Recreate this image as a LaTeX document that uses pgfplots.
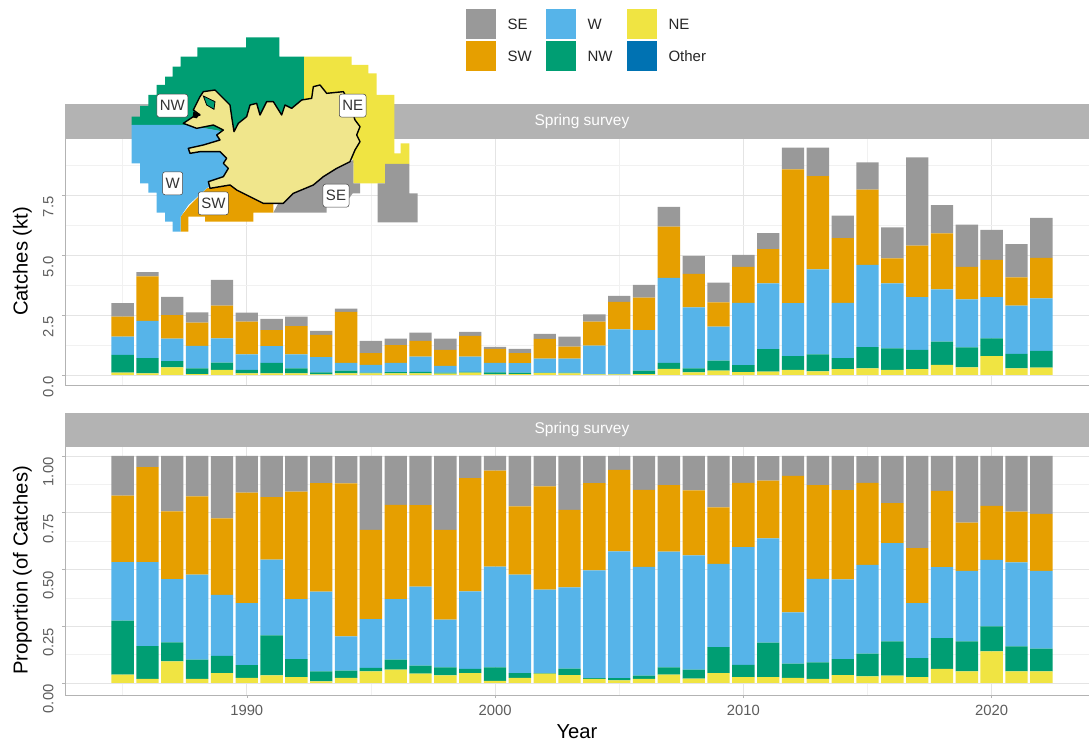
\documentclass[border=0pt]{standalone}
\usepackage{fontspec}
\setmainfont{Liberation Sans}
\usepackage{pgfplots}
\usepackage{pgfplotstable}
\pgfplotsset{compat=1.18}
\definecolor{cSE}{HTML}{999999}
\definecolor{cSW}{HTML}{E69F00}
\definecolor{cW}{HTML}{56B4E9}
\definecolor{cNW}{HTML}{009E73}
\definecolor{cNE}{HTML}{F0E442}
\definecolor{cOther}{HTML}{0072B2}
\definecolor{stripgrey}{HTML}{B3B3B3}
\definecolor{grid87}{HTML}{E4E4E4}
\definecolor{grid93}{HTML}{F1F1F1}
\definecolor{tickgrey}{HTML}{5C5C5C}
\definecolor{land}{HTML}{F0E68C}

\pgfplotstableread{
year ne nw w sw se
1985 .10 .74 .76 .83 .56
1986 .07 .63 1.56 1.85 .18
1987 .32 .26 .94 .97 .76
1988 .04 .24 .93 .97 .43
1989 .21 .31 1.01 1.36 1.07
1990 .07 .14 .65 1.36 .38
1991 .07 .44 .69 .67 .47
1992 .07 .21 .58 1.18 .39
1993 .03 .08 .63 .93 .17
1994 .07 .11 .33 2.12 .14
1995 .07 .03 .32 .49 .51
1996 .07 .05 .38 .74 .28
1997 .07 .06 .64 .65 .35
1998 .06 .04 .28 .67 .47
1999 .10 .03 .64 .86 .17
2000 .03 .08 .40 .58 .08
2001 .04 .06 .39 .42 .18
2002 .08 .02 .58 .82 .21
2003 .07 .03 .58 .50 .42
2004 .03 .01 1.18 1.00 .31
2005 .03 .01 1.86 1.15 .25
2006 .04 .14 1.69 1.35 .53
2007 .26 .25 3.54 2.13 .83
2008 .11 .17 2.54 1.39 .75
2009 .18 .42 1.42 1.01 .82
2010 .12 .29 2.60 1.50 .49
2011 .14 .94 2.74 1.42 .67
2012 .21 .58 2.20 5.58 .90
2013 .15 .71 3.54 3.89 1.18
2014 .24 .46 2.31 2.69 .94
2015 .28 .88 3.43 3.13 1.14
2016 .21 .90 2.71 1.04 1.29
2017 .24 .81 2.19 2.15 3.68
2018 .42 .97 2.18 2.33 1.18
2019 .32 .83 2.00 1.36 1.76
2020 .79 .74 1.71 1.56 1.25
2021 .28 .60 2.01 1.18 1.38
2022 .31 .69 2.19 1.69 1.67
}\toptab

\pgfplotstableread{
year ne nw w sw se
1985 .037 .238 .257 .293 .175
1986 .018 .144 .370 .419 .050
1987 .095 .084 .279 .298 .245
1988 .018 .085 .374 .345 .179
1989 .044 .076 .268 .337 .274
1990 .023 .056 .273 .487 .161
1991 .034 .176 .333 .276 .182
1992 .026 .079 .264 .474 .157
1993 .007 .044 .352 .477 .120
1994 .023 .031 .151 .674 .120
1995 .051 .016 .214 .393 .326
1996 .059 .044 .267 .415 .216
1997 .041 .035 .349 .359 .216
1998 .034 .035 .210 .396 .326
1999 .044 .018 .342 .499 .098
2000 .009 .060 .444 .422 .065
2001 .023 .021 .433 .301 .223
2002 .041 .003 .367 .455 .135
2003 .035 .028 .358 .342 .238
2004 .018 .003 .475 .384 .120
2005 .012 .009 .559 .359 .062
2006 .018 .015 .478 .340 .150
2007 .037 .032 .510 .293 .128
2008 .019 .040 .503 .286 .152
2009 .044 .114 .367 .249 .226
2010 .026 .054 .518 .284 .117
2011 .026 .152 .459 .254 .108
2012 .023 .062 .226 .601 .088
2013 .018 .073 .368 .413 .128
2014 .035 .070 .352 .393 .150
2015 .029 .100 .391 .362 .117
2016 .032 .151 .433 .176 .208
2017 .026 .084 .242 .242 .406
2018 .062 .136 .312 .336 .154
2019 .051 .132 .311 .213 .293
2020 .139 .110 .293 .238 .220
2021 .051 .110 .370 .224 .245
2022 .051 .100 .343 .251 .255
}\proptab

\pgfplotsset{
  panel/.style={
    scale only axis, width=1024pt, clip=true,
    xmin=1982.68, xmax=2023.92,
    ybar stacked, bar shift=0pt, bar width=0.9,
    xtick={1990,2000,2010,2020},
    minor xtick={1985,1995,2005,2015},
    xtick pos=bottom, ytick pos=left,
    tick align=outside, major tick length=3pt, minor tick length=0pt,
    tick style={stripgrey, line width=.5pt},
    axis line style={stripgrey, line width=.6pt},
    grid=both,
    major grid style={grid87, line width=.6pt},
    minor grid style={grid93, line width=.4pt},
    tick label style={text=tickgrey, font=\fontsize{14.8}{17}\selectfont},
    xticklabel style={yshift=-4pt},
    /pgf/number format/assume math mode=true,
    /pgf/number format/1000 sep={},
    yticklabel style={rotate=90, anchor=south east, xshift=2pt, yshift=5pt,
      /pgf/number format/fixed, /pgf/number format/fixed zerofill},
    every axis y label/.style={at={(axis description cs:-0.0415,0.5)}, rotate=90, anchor=center,
      font=\fontsize{20.2}{24}\selectfont},
    every axis x label/.style={at={(axis description cs:0.5,-0.148)}, anchor=center,
      font=\fontsize{20.2}{24}\selectfont},
  },
  seriesbar/.style={fill=#1, draw=none},
}

\begin{document}
\begin{tikzpicture}[x=1pt,y=1pt]
\path[use as bounding box] (0,0) rectangle (1089,742);

% top panel
\begin{axis}[panel, at={(65pt,357pt)}, anchor=south west, height=247pt,
  ymin=-0.4167, ymax=9.875,
  ytick={0,2.5,5,7.5}, minor ytick={1.25,3.75,6.25,8.75},
  yticklabel style={/pgf/number format/precision=1},
  xticklabels={,,}, xtick style={draw=none},
  ylabel={Catches (kt)}]
\addplot[seriesbar=cNE] table[x=year,y=ne]{\toptab};
\addplot[seriesbar=cNW] table[x=year,y=nw]{\toptab};
\addplot[seriesbar=cW]  table[x=year,y=w]{\toptab};
\addplot[seriesbar=cSW] table[x=year,y=sw]{\toptab};
\addplot[seriesbar=cSE] table[x=year,y=se]{\toptab};
\end{axis}

% bottom panel
\begin{axis}[panel, at={(65pt,47pt)}, anchor=south west, height=249pt,
  ymin=-0.0529, ymax=1.044,
  ytick={0,.25,.5,.75,1}, minor ytick={.125,.375,.625,.875},
  yticklabel style={/pgf/number format/precision=2},
  ylabel={Proportion (of Catches)}, xlabel={Year}]
\addplot[seriesbar=cNE] table[x=year,y=ne]{\proptab};
\addplot[seriesbar=cNW] table[x=year,y=nw]{\proptab};
\addplot[seriesbar=cW]  table[x=year,y=w]{\proptab};
\addplot[seriesbar=cSW] table[x=year,y=sw]{\proptab};
\addplot[seriesbar=cSE] table[x=year,y=se]{\proptab};
\end{axis}

% facet strips
\fill[stripgrey] (65,604) rectangle (1089,638);
\node[text=white, font=\fontsize{15.5}{18}\selectfont] at (582,621) {Spring survey};
\fill[stripgrey] (65,296) rectangle (1089,329);
\node[text=white, font=\fontsize{15.5}{18}\selectfont] at (582,313) {Spring survey};

% legend
\foreach \x/\y/\c/\t in {466/703/cSE/SE,466/671/cSW/SW,546/703/cW/W,546/671/cNW/NW,627/703/cNE/NE,627/671/cOther/Other}{
  \fill[\c] (\x,\y) rectangle ++(30,30);
  \node[anchor=west, text=black!85, font=\fontsize{15}{18}\selectfont] at (\x+38,\y+15) {\t};
}

% inset map, in the coordinates of a 400x230 region
\begin{axis}[at={(60pt,492pt)}, anchor=south west, scale only axis, width=400pt, height=230pt,
  xmin=0, xmax=1200, ymin=0, ymax=690, y dir=reverse, hide axis, clip=false]
\addplot[fill=cNW, draw=none] coordinates {(215,315)(215,290)(240,290)(240,258)(265,258)(265,225)(290,225)(290,195)(315,195)(315,170)(338,170)(338,140)(362,140)(362,110)(412,110)(412,82)(558,82)(558,52)(658,52)(658,110)(732,110)(732,260)(520,340)(380,315)} -- cycle;
\addplot[fill=cNE, draw=none] coordinates {(732,110)(875,110)(875,135)(925,135)(925,160)(950,160)(950,225)(1003,225)(1003,400)(1022,400)(1022,370)(1048,370)(1048,432)(975,432)(975,490)(880,490)(880,430)(850,300)(732,260)} -- cycle;
\addplot[fill=cSE, draw=none] coordinates {(975,432)(1048,432)(1048,520)(1073,520)(1073,607)(953,607)(953,490)(975,490)} -- cycle;
\addplot[fill=cSE, draw=none] coordinates {(880,420)(880,490)(900,490)(900,520)(878,520)(860,545)(800,545)(800,578)(640,578)(660,540)(800,460)} -- cycle;
\addplot[fill=cSW, draw=none] coordinates {(435,605)(580,605)(580,578)(640,578)(640,550)(560,510)(520,495)(440,505)(390,555)(362,590)(362,635)(385,635)(385,590)(435,590)} -- cycle;
\addplot[fill=cW, draw=none] coordinates {(215,315)(380,315)(520,340)(500,470)(440,505)(385,555)(362,590)(362,635)(338,635)(338,605)(315,605)(315,578)(290,578)(290,518)(265,518)(265,490)(240,490)(240,430)(215,430)} -- cycle;
\addplot[fill=land, draw=black, line width=1.4pt, line join=round] coordinates {(430,215)(465,210)(490,235)(510,255)(515,290)(522,335)(535,310)(560,290)(570,255)(590,250)(600,285)(620,245)(640,245)(665,285)(675,255)(695,265)(725,240)(755,235)(760,200)(780,195)(800,220)(850,215)(870,250)(885,300)(900,320)(890,345)(900,365)(885,390)(870,425)(830,445)(790,470)(760,495)(700,520)(670,550)(610,550)(570,530)(530,510)(510,495)(450,505)(445,485)(490,470)(505,445)(490,430)(500,415)(480,395)(420,395)(390,400)(385,385)(430,375)(480,360)(470,345)(490,330)(460,315)(410,325)(370,310)(400,290)(420,285)(400,270)(420,230)} -- cycle;
\addplot[fill=cNW, draw=black, line width=.8pt] coordinates {(430,228)(465,245)(462,268)(440,255)} -- cycle;
\addplot[fill=black, draw=none] coordinates {(400,275)(420,282)(410,295)(398,292)} -- cycle;
\tikzset{maplab/.style={fill=white, draw=black!75, line width=.5pt, rounded corners=2.5pt,
  font=\fontsize{15}{18}\selectfont, text=black!80, inner sep=3pt, minimum height=23pt, text depth=0pt}}
\node[maplab] at (axis cs:337,257) {NW};
\node[maplab] at (axis cs:878,257) {NE};
\node[maplab] at (axis cs:338,490) {W};
\node[maplab] at (axis cs:460,550) {SW};
\node[maplab] at (axis cs:828,527) {SE};
\end{axis}
\end{tikzpicture}
\end{document}
